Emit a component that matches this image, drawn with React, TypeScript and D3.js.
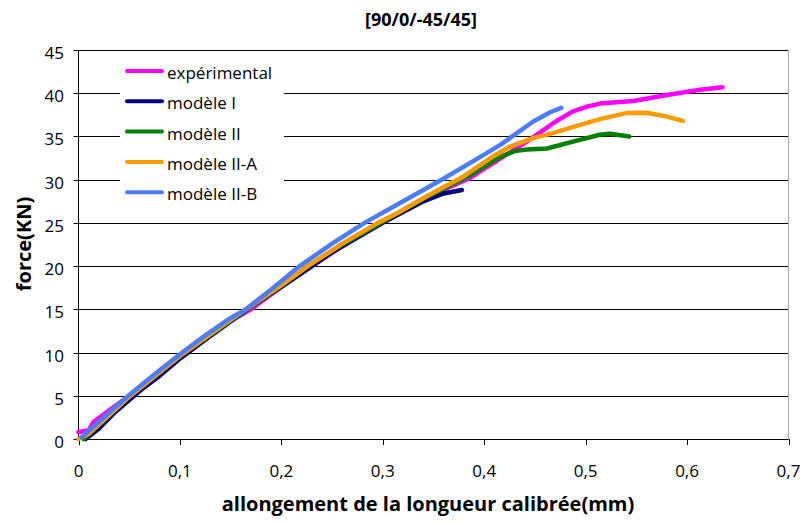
import React from "react";
import * as d3 from "d3";

const title = "[90/0/-45/45]";
const xLabel = "allongement de la longueur calibrée(mm)";
const yLabel = "force(KN)";
const xTicks = [0, 0.1, 0.2, 0.3, 0.4, 0.5, 0.6, 0.7];
const yTicks = [0, 5, 10, 15, 20, 25, 30, 35, 40, 45];

const seriesNames = ["expérimental", "modèle I", "modèle II", "modèle II-A", "modèle II-B"];
const seriesColors = ["#FF00FF", "#000080", "#008000", "#FF9900", "#4A7EFF"];

const experimental: [number, number][] = [
  [0, 0.8], [0.01, 1.0], [0.015, 2.0], [0.03, 3.3], [0.05, 5.0], [0.075, 7.2], [0.1, 9.5],
  [0.13, 12.3], [0.17, 15], [0.2, 17.6], [0.23, 20], [0.265, 22.7], [0.3, 25.1], [0.34, 27.8],
  [0.386, 30.2], [0.41, 32.0], [0.43, 33.5], [0.442, 34.4], [0.458, 35.7], [0.47, 36.7],
  [0.4875, 37.9], [0.5, 38.4], [0.514, 38.8], [0.547, 39.1], [0.58, 39.8], [0.613, 40.4], [0.635, 40.7],
];
const modeleI: [number, number][] = [
  [0.007, 0], [0.02, 1.2], [0.035, 3.0], [0.05, 4.5], [0.065, 6.0], [0.08, 7.3], [0.1, 9.3],
  [0.125, 11.5], [0.15, 13.6], [0.175, 15.7], [0.2, 17.6], [0.25, 21.6], [0.3, 25],
  [0.34, 27.5], [0.36, 28.4], [0.378, 28.8],
];
const modeleII: [number, number][] = [
  [0.005, 0], [0.02, 1.6], [0.05, 4.9], [0.1, 9.6], [0.15, 13.7], [0.2, 17.7], [0.226, 20],
  [0.26, 22.5], [0.298, 25], [0.34, 27.8], [0.383, 30.3], [0.4155, 32.6], [0.43, 33.3],
  [0.442, 33.5], [0.462, 33.6], [0.4875, 34.4], [0.514, 35.2], [0.524, 35.3], [0.543, 35.0],
];
const modeleIIA: [number, number][] = [
  [0, 0], [0.01, 0.6], [0.05, 4.9], [0.1, 9.6], [0.15, 13.8], [0.2, 17.8], [0.226, 20],
  [0.26, 22.6], [0.295, 25], [0.317, 26.3], [0.345, 28.2], [0.38, 30.4], [0.41, 32.8],
  [0.425, 33.8], [0.448, 34.8], [0.465, 35.3], [0.488, 36.1], [0.514, 37.0], [0.54, 37.7],
  [0.56, 37.75], [0.58, 37.3], [0.596, 36.8],
];
const modeleIIB: [number, number][] = [
  [0.003, 0.2], [0.02, 2.0], [0.05, 5.1], [0.075, 7.5], [0.1, 9.8], [0.125, 12.0], [0.15, 14.0],
  [0.165, 15], [0.19, 17.3], [0.218, 20], [0.25, 22.6], [0.282, 25], [0.317, 27.3],
  [0.358, 30], [0.39, 32.2], [0.4155, 34.0], [0.448, 36.7], [0.465, 37.8], [0.476, 38.3],
];
const allSeries = [experimental, modeleI, modeleII, modeleIIA, modeleIIB];

const W = 803;
const H = 522;
const M = { left: 78.5, right: 788.5, top: 50, bottom: 439 };
const FONT = "'Open Sans', sans-serif";

export default function App() {
  const x = d3.scaleLinear().domain([0, 0.7]).range([M.left, M.right]);
  const y = d3.scaleLinear().domain([0, 45]).range([M.bottom, M.top]);
  const line = d3
    .line<[number, number]>()
    .x((d) => x(d[0]))
    .y((d) => y(d[1]));
  const fmt = (v: number) => (v === 0 ? "0" : d3.format(".1f")(v).replace(".", ","));

  return (
    <svg width={W} height={H} style={{ position: "absolute", left: 0, top: 0, background: "#fff" }} fontFamily={FONT}>
      <rect x={0} y={0} width={W} height={H} fill="#fff" />
      {yTicks.map((t) => (
        <line key={"g" + t} x1={M.left} x2={M.right} y1={Math.round(y(t)) + 0.5} y2={Math.round(y(t)) + 0.5} stroke="#000" strokeWidth={1} />
      ))}
      <line x1={M.right} x2={M.right} y1={M.top} y2={M.bottom} stroke="#a6a6a6" strokeWidth={1} />
      <line x1={M.left} x2={M.left} y1={M.top} y2={M.bottom + 0.5} stroke="#000" strokeWidth={1} />
      {yTicks.map((t) => (
        <line key={"yt" + t} x1={M.left - 5} x2={M.left} y1={Math.round(y(t)) + 0.5} y2={Math.round(y(t)) + 0.5} stroke="#000" />
      ))}
      {xTicks.map((t) => (
        <line key={"xt" + t} x1={Math.round(x(t)) + 0.5} x2={Math.round(x(t)) + 0.5} y1={M.bottom} y2={M.bottom + 6} stroke="#000" />
      ))}
      {yTicks.map((t) => (
        <text key={"yl" + t} x={64} y={y(t) + 9} textAnchor="end" fontSize={17} fill="#000">
          {t}
        </text>
      ))}
      {xTicks.map((t) => (
        <text key={"xl" + t} x={x(t)} y={477} textAnchor="middle" fontSize={17} fill="#000">
          {fmt(t)}
        </text>
      ))}
      <rect x={120} y={58} width={164} height={150} fill="#fff" />
      {allSeries.map((s, i) => (
        <path key={"s" + i} d={line(s) || ""} fill="none" stroke={seriesColors[i]} strokeWidth={4.5} strokeLinejoin="round" strokeLinecap="round" />
      ))}
      {seriesNames.map((n, i) => (
        <g key={"lg" + i}>
          <line x1={127} x2={162} y1={71 + i * 30.3} y2={71 + i * 30.3} stroke={seriesColors[i]} strokeWidth={4} strokeLinecap="round" />
          <text x={167} y={79 + i * 30.3} fontSize={17} fill="#000">
            {n}
          </text>
        </g>
      ))}
      <text x={421} y={26} textAnchor="middle" fontSize={18} fontWeight="bold" fill="#000">
        {title}
      </text>
      <text x={428} y={511} textAnchor="middle" fontSize={20} fontWeight="bold" fill="#000">
        {xLabel}
      </text>
      <text transform={`translate(31,244) rotate(-90)`} textAnchor="middle" fontSize={20} fontWeight="bold" fill="#000">
        {yLabel}
      </text>
    </svg>
  );
}
